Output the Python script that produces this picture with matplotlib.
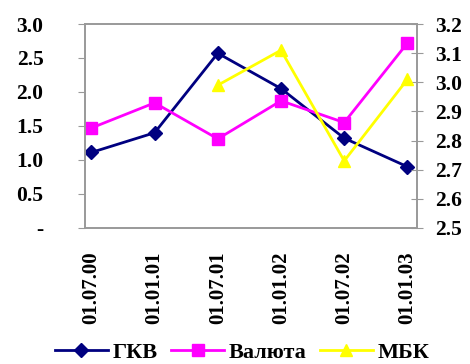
import matplotlib.pyplot as plt
from matplotlib.ticker import FuncFormatter

# dates on the category axis
dates = ["01.07.00", "01.01.01", "01.07.01", "01.01.02", "01.07.02", "01.01.03"]

# left axis series
gkv = [1.11, 1.40, 2.57, 2.05, 1.32, 0.90]
valuta = [1.47, 1.84, 1.31, 1.87, 1.55, 2.72]

# right axis series (starts at the third date)
mbk_dates = dates[2:]
mbk = [2.99, 3.11, 2.73, 3.01]

left_ticks = [0, 0.5, 1.0, 1.5, 2.0, 2.5, 3.0]
right_ticks = [2.5, 2.6, 2.7, 2.8, 2.9, 3.0, 3.1, 3.2]

plt.rcParams['font.family'] = ['Liberation Serif', 'DejaVu Serif']
plt.rcParams['font.weight'] = 'bold'

fig = plt.figure(figsize=(4.7, 3.64), dpi=100)
ax1 = fig.add_axes([0.181, 0.374, 0.706, 0.56])
ax2 = ax1.twinx()

x = list(range(len(dates)))
x_mbk = [dates.index(d) for d in mbk_dates]

l1, = ax1.plot(x, gkv, color='#000080', lw=2, marker='D', ms=7, label="ГКВ")
l2, = ax1.plot(x, valuta, color='#FF00FF', lw=2, marker='s', ms=9, label="Валюта")
l3, = ax2.plot(x_mbk, mbk, color='#FFFF00', lw=2, marker='^', ms=9, label="МБК")

ax1.set_xlim(-0.1, 5.15)
ax1.set_ylim(0, 3.0)
ax2.set_ylim(2.5, 3.2)

ax1.set_xticks(x)
ax1.set_xticklabels(dates, rotation=90, fontsize=15, fontweight='bold')
ax1.set_yticks(left_ticks)
ax1.yaxis.set_major_formatter(FuncFormatter(lambda v, p: "-" if v == 0 else f"{v:.1f}"))
ax2.set_yticks(right_ticks)
ax2.yaxis.set_major_formatter(FuncFormatter(lambda v, p: f"{v:.1f}"))

ax1.tick_params(axis='y', direction='out', length=5, color='#999999', pad=25, labelsize=15.5)
ax1.tick_params(axis='x', length=0, pad=17)
ax2.tick_params(axis='y', direction='inout', length=8, color='#999999', pad=9, labelsize=15.5)

for ax in (ax1, ax2):
    for s in ax.spines.values():
        s.set_color('#999999')
        s.set_linewidth(1.2)

fig.legend(handles=[l1, l2, l3], loc='lower center', bbox_to_anchor=(0.515, -0.052),
           ncol=3, frameon=False, handlelength=2.4,
           columnspacing=0.6, handletextpad=0.2,
           prop={'weight': 'bold', 'size': 16})

fig.savefig("out.png", dpi=100)
